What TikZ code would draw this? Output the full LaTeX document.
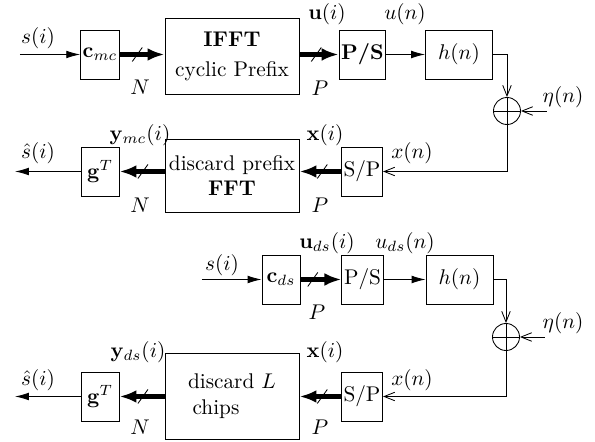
\documentclass[tikz,border=0pt]{standalone}
\usepackage{amsmath,amssymb}
\usepackage{tikz}
\usetikzlibrary{arrows.meta,positioning,calc}

\begin{document}
\begin{tikzpicture}[x=0.47pt,y=-0.47pt,
  blk/.style={draw, minimum width=17.9pt, minimum height=23pt, inner sep=1pt},
  wblk/.style={draw, minimum width=31.5pt, minimum height=23pt, inner sep=1pt},
  bigblk/.style={draw, minimum width=63pt, align=center, inner sep=1pt},
  sm/.style={draw, circle, minimum size=12.7pt, inner sep=0pt,
    path picture={\draw (path picture bounding box.north) -- (path picture bounding box.south)
      (path picture bounding box.west) -- (path picture bounding box.east);}},
  thn/.style={-{Latex[length=6.5pt,width=3.6pt]}},
  thk/.style={line width=2.4pt, -{Latex[length=8pt,width=6pt]}},
  opn/.style={-{Straight Barb[length=5pt,width=4pt]}}]
\useasboundingbox (0,0) rectangle (595,442);
% multicarrier chain
\node[blk] (cmc) at (100,54.5) {$\mathbf{c}_{mc}$};
\node[bigblk, minimum height=35.7pt] (ifft) at (232,56) {\textbf{IFFT}\\[2pt]cyclic Prefix};
\node[blk] (ps1) at (362.5,54.5) {\textbf{P/S}};
\node[wblk] (h1) at (459,54.5) {$h(n)$};
\node[sm] (add1) at (507,111) {};
\node[blk] (sp1) at (362,171.5) {S/P};
\node[bigblk, minimum height=34.3pt] (fft) at (232,175.5) {discard prefix\\\textbf{FFT}};
\node[blk] (g1) at (100,171.5) {$\mathbf{g}^T$};
\coordinate (in1) at (20,54.5);
\coordinate (out1) at (15,171.5);
\coordinate (nz1) at (547,111);
\draw[thn] (in1) -- (cmc);
\draw[thk] (cmc) -- (cmc -| ifft.west) coordinate[pos=.39] (bs1);
\draw[thk] (ifft.east |- ps1) -- (ps1) coordinate[pos=.43] (bs2);
\draw[thn] (ps1) -- (h1);
\draw[opn] (h1) -| (add1);
\draw[opn] (nz1) -- (add1);
\draw[opn] (add1) |- (sp1);
\draw[thk] (sp1) -- (sp1 -| fft.east) coordinate[pos=.45] (bs3);
\draw[thk] (fft.west |- g1) -- (g1) coordinate[pos=.48] (bs4);
\draw[thn] (g1) -- (out1);
\foreach \b in {bs1,bs2,bs3,bs4}{
  \draw (\b) +(-5,7) -- +(5,-7);}
\node (si1) at (38,38) {$s(i)$};
\node (N1) at (140,87) {$N$};
\node (P1) at (320,88) {$P$};
\node (ui) at (327,14) {$\mathbf{u}(i)$};
\node (un) at (405,14) {$u(n)$};
\node (eta1) at (563,97) {$\eta(n)$};
\node (xn1) at (412,153) {$x(n)$};
\node (xi1) at (325,135) {$\mathbf{x}(i)$};
\node (P2) at (320,205) {$P$};
\node (ymc) at (140,135) {$\mathbf{y}_{mc}(i)$};
\node (N2) at (140,205) {$N$};
\node (sh1) at (38,153) {$\hat{s}(i)$};
% direct sequence chain
\node[blk] (cds) at (281,279.5) {$\mathbf{c}_{ds}$};
\node[blk] (ps2) at (362.5,279.5) {P/S};
\node[wblk] (h2) at (459.5,279.5) {$h(n)$};
\node[sm] (add2) at (506,337) {};
\node[blk] (sp2) at (362,396.5) {S/P};
\node[bigblk, minimum height=40.4pt] (disc) at (232,396) {discard $L$\\chips\hspace*{15pt}};
\node[blk] (g2) at (100,396.5) {$\mathbf{g}^T$};
\coordinate (in2) at (202,279.5);
\coordinate (out2) at (15,396.5);
\coordinate (nz2) at (545,337);
\draw[thn] (in2) -- (cds);
\draw[thk] (cds) -- (ps2) coordinate[pos=.3] (bs5);
\draw[thn] (ps2) -- (h2);
\draw[opn] (h2) -| (add2);
\draw[opn] (nz2) -- (add2);
\draw[opn] (add2) |- (sp2);
\draw[thk] (sp2) -- (sp2 -| disc.east) coordinate[pos=.45] (bs6);
\draw[thk] (disc.west |- g2) -- (g2) coordinate[pos=.48] (bs7);
\draw[thn] (g2) -- (out2);
\foreach \b in {bs5,bs6,bs7}{
  \draw (\b) +(-5,7) -- +(5,-7);}
\node (si2) at (222,265) {$s(i)$};
\node (P3) at (317,312) {$P$};
\node (uds) at (327,243) {$\mathbf{u}_{ds}(i)$};
\node (udsn) at (405,243) {$u_{ds}(n)$};
\node (eta2) at (563,323) {$\eta(n)$};
\node (xn2) at (412,380) {$x(n)$};
\node (xi2) at (325,352) {$\mathbf{x}(i)$};
\node (P4) at (320,427) {$P$};
\node (yds) at (138,352) {$\mathbf{y}_{ds}(i)$};
\node (N3) at (140,427) {$N$};
\node (sh2) at (38,380) {$\hat{s}(i)$};
\end{tikzpicture}
\end{document}
